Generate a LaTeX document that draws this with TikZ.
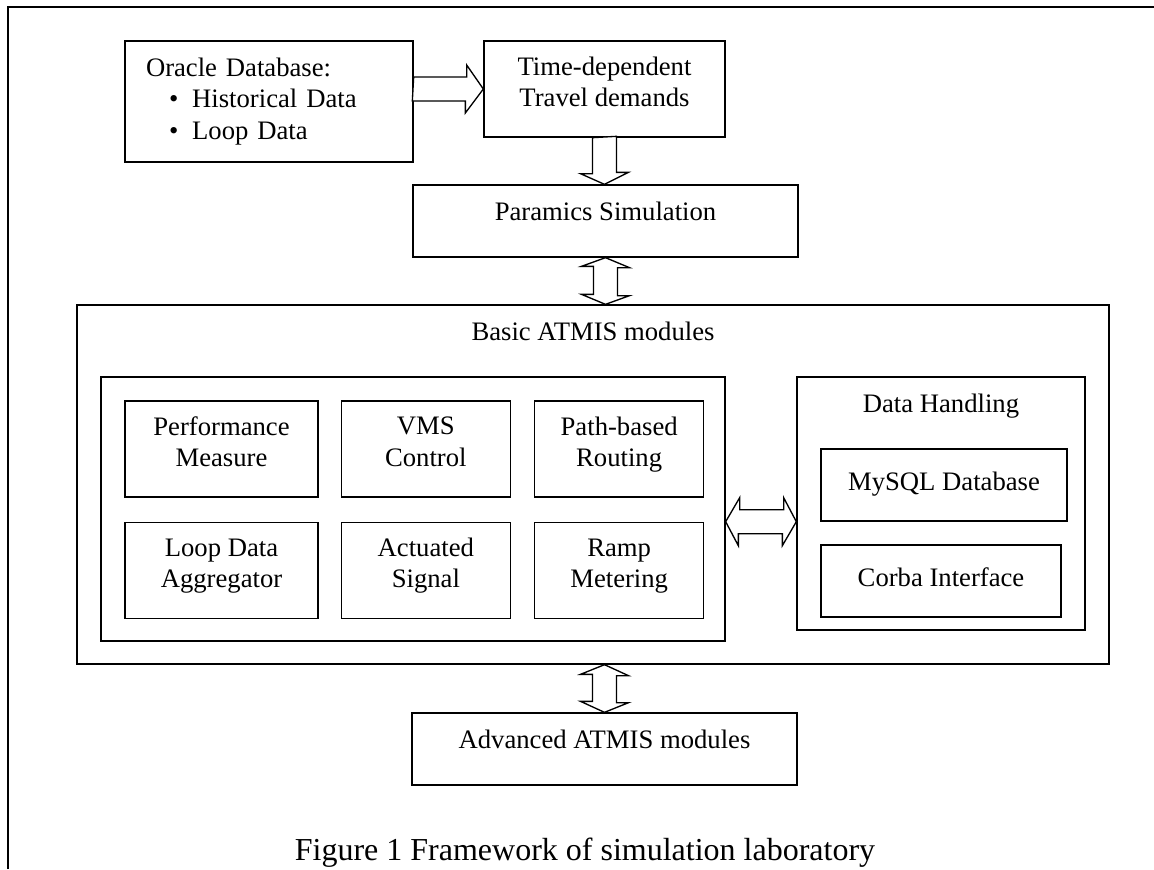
\documentclass[tikz,border=0pt]{standalone}
\usepackage{fontspec}
\setmainfont{Liberation Serif}
\usetikzlibrary{positioning}
\newcommand{\diagfont}{\fontsize{12}{14}\selectfont}
\tikzset{
  box/.style={rectangle, draw, line width=0.6pt, inner sep=0pt, font=\diagfont},
  twoline/.style={box, align=center, minimum height=43.2pt,
    execute at begin node=\strut, execute at end node=\rule[-6.6pt]{0pt}{6.6pt}},
  oneline/.style={box, inner ysep=0pt, text height=15.75pt, text depth=16.65pt},
  lowline/.style={box, inner ysep=0pt, text height=18.45pt, text depth=13.95pt},
  hollow/.style={draw, fill=white, line width=0.6pt},
}

\begin{document}
\begin{tikzpicture}[x=0.45pt, y=-0.45pt, node distance=10.8pt and 9.9pt]
  \useasboundingbox (0,0) rectangle (1154,869);

  % Frame
  \draw[line width=0.9pt] (8,869) -- (8,7) -- (1154,7);

  % Nodes
  \node[box, align=left, text width=110.7pt, inner xsep=9.45pt, minimum height=54.45pt] (oracle) at (269,101.5)
    {Oracle Database:\\\hspace*{10.4pt}\textbullet\hspace{6.2pt}Historical Data\\\hspace*{10.4pt}\textbullet\hspace{6.2pt}Loop Data};
  \node[twoline, minimum width=108.45pt] (demand) at (604.5,89) {Time-dependent\\Travel demands};
  \node[oneline, minimum width=173.25pt] (paramics) at (605.5,221) {Paramics Simulation};
  \node[box, minimum width=464.4pt, inner ysep=0pt, text height=15.75pt, text depth=145.8pt] (basic) at (593,484.5) {Basic ATMIS modules};
  \node[box, minimum width=280.8pt, minimum height=118.8pt] (group) at (413,509) {};

  % Modules
  \node[twoline, minimum width=86.85pt] (perf) at (221.5,449) {Performance\\Measure};
  \node[twoline, minimum width=76.05pt, right=of perf] (vms) {VMS\\Control};
  \node[twoline, minimum width=76.05pt, right=10.35pt of vms] (routing) {Path-based\\Routing};
  \node[twoline, minimum width=86.85pt, below=of perf] (loopagg) {Loop Data\\Aggregator};
  \node[twoline, minimum width=76.05pt, below=of vms] (signal) {Actuated\\Signal};
  \node[twoline, minimum width=76.05pt, below=of routing] (ramp) {Ramp\\Metering};

  % Data handling
  \node[box, minimum width=129.6pt, inner ysep=0pt, text height=15.75pt, text depth=98.1pt] (datah) at (941,503.5) {Data Handling};
  \node[lowline, minimum width=110.7pt] (mysql) at (944,485) {MySQL Database};
  \node[lowline, minimum width=108pt] (corba) at (941,581) {Corba Interface};

  \node[oneline, minimum width=173.25pt] (advanced) at (604.5,749) {Advanced ATMIS modules};
  \node[font=\fontsize{14.4}{17}\selectfont, anchor=base] (caption) at (585,860) {Figure 1 Framework of simulation laboratory};

  % Arrows
  \draw[hollow] (oracle.east |- demand.west) ++(0,-12) -- ++(53,0) -- ++(0,-12) -- (demand.west)
    -- ++(-18,24) -- ++(0,-12) -- ++(-53,0) -- cycle;
  \draw[hollow] (demand.south) ++(-12,0) -- ++(0,36) -- ++(-12,0) -- (demand.south |- paramics.north)
    -- ++(24,-12) -- ++(-12,0) -- ++(0,-36) -- cycle;
  \draw[hollow] (paramics.south) -- ++(24,10) -- ++(-12,0) -- ++(0,28) -- ++(12,0) -- (paramics.south |- basic.north)
    -- ++(-24,-10) -- ++(12,0) -- ++(0,-28) -- ++(-12,0) -- cycle;
  \draw[hollow] (group.east |- mysql.south) -- ++(14,-24) -- ++(0,12) -- ++(44,0) -- ++(0,-12) -- (datah.west |- mysql.south)
    -- ++(-14,24) -- ++(0,-12) -- ++(-44,0) -- ++(0,12) -- cycle;
  \draw[hollow] (advanced.north |- basic.south) -- ++(24,11) -- ++(-12,0) -- ++(0,27) -- ++(12,0) -- (advanced.north)
    -- ++(-24,-11) -- ++(12,0) -- ++(0,-27) -- ++(-12,0) -- cycle;

\end{tikzpicture}
\end{document}
